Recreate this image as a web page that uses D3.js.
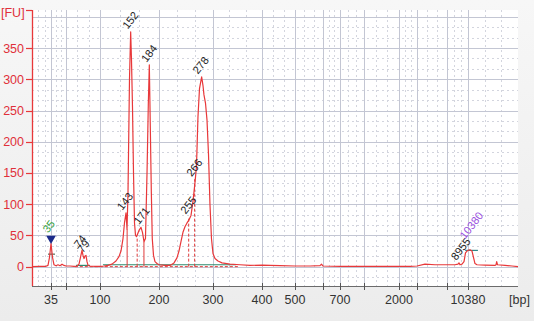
<!DOCTYPE html>
<html><head><meta charset="utf-8">
<script src="https://cdn.jsdelivr.net/npm/d3@7"></script>
<style>html,body{margin:0;padding:0;background:#f1f1f1;}svg{display:block;}</style>
</head><body><svg id="c" width="534" height="321"></svg>
<script>
// ---- data ----
const ladderBp = [35, 50, 100, 200, 300, 400, 500, 600, 700, 1000, 2000, 3000, 7000, 10380];
const ladderPos = [0.0391, 0.0700, 0.1399, 0.2613, 0.3724, 0.4733, 0.5412, 0.5988, 0.6337, 0.6831, 0.7551, 0.7922, 0.8539, 0.8971];
const xTickLabels = [35, 100, 200, 300, 400, 500, 700, 2000, 10380];
const yTicks = [0, 50, 100, 150, 200, 250, 300, 350];
const traceBp = [16,24,30,32,33.5,35,36.5,38,40,42,44,46,48,50,55.9,61.8,66.2,69.1,71.3,73.5,75,76.5,77.9,79.4,80.9,82.4,85.3,92.6,100,106.8,113.6,120.3,127.1,132.2,135.6,139,141.5,144.1,145.8,147.5,150,152,153.4,155.1,156.8,158.5,160.2,161.9,163.6,166.1,169.5,172,174.6,177.1,179.7,181.9,183.6,185.3,187,188.6,190.7,193.2,196.6,200,211,220.4,227.8,233.3,237,240.7,244.4,248.1,251.9,255.6,259.3,263,266.7,269.4,272.2,275,279,281.5,283.3,286.1,288.9,291.7,294.4,297.2,300,304.1,310.2,318.4,334.7,355.1,375.5,400,424.2,454.5,500,553.6,589.3,594.6,600,700,1000,2000,2611,3000,4067,5400,7000,8288,8771,8932,9093,9415,9737,9978,10219,10380,10702,11024,11265,11507,11829,13117,14727,14888,15001,15129,16337,17464,18430];
const traceFu = [0,0.5,0.5,2,15,37,15,3,1.5,3,1.5,4,2,1,1,0.5,1,4,15,26,18,13,17,18,8,2,1,0.5,0.5,1,2,4,9,16,25,45,70,86,60,120,300,376,330,255,150,70,50,48,52,58,63,55,40,45,150,260,323,222,120,45,18,8,5,3,2,2,6,14,25,40,55,64,70,75,82,105,135,160,240,285,304,290,275,262,235,180,100,45,21,13,9,6,4,3,2,2.5,2,1.5,1,1,1.5,4,1,0.5,0.5,0.5,0.5,1,4,3,3,3,4,6,3,4,8,22,25,26,27,25,15,5,3,2.5,2,3,8,3,2,1,0];
const peakBp = [35, 74, 79, 143, 152, 171, 184, 255, 266, 278, 8955, 10380];
const peakFu = [37, 26, 18, 86, 376, 63, 323, 80, 140, 304, 6, 27];
const peakLabels = ["35", "74", "79", "143", "152", "171", "184", "255", "266", "278", "8955", "10380"];
const peakColors = ["#2f9e3a", "#222", "#222", "#222", "#222", "#222", "#222", "#222", "#222", "#222", "#222", "#9a4fe0"];
const boundaryBp = [146, 163, 174.5, 255, 266];
const boundaryFu = [60, 47, 40, 80, 140];
const boundaryDashed = [false, true, false, true, true];
const smearBp = [[64.7, 85.3], [105, 347]];
const smearFu = [2, 3];

// ---- layout ----
const svg = d3.select("#c");
const L = 32, R = 518, T = 10, B = 286;
const W = R - L;
const x = d3.scaleLinear().domain(ladderBp).range(ladderPos.map(p => L + p * W));
const y = d3.scaleLinear().domain([-31, 411]).range([B, T]);
const font = "Liberation Sans, Arial, sans-serif";

const bg = svg.append("defs").append("linearGradient").attr("id","bg").attr("x1",0).attr("y1",0).attr("x2",0).attr("y2",1);
bg.append("stop").attr("offset","0").attr("stop-color","#f7f7f7");
bg.append("stop").attr("offset","1").attr("stop-color","#ececec");
svg.append("rect").attr("width",534).attr("height",321).attr("fill","url(#bg)");
svg.append("rect").attr("x",L).attr("y",T).attr("width",W).attr("height",B-T).attr("fill","#ffffff");

const grid = svg.append("g");
const minorColor = "#d3d5de", majorColor = "#c3c6d3";
d3.range(-1, 25).map(k => k * 50 / 3).filter(v => v > -31 && v < 411 && Math.abs(v % 50) > 1e-6).forEach(v => {
  const yv = Math.round(y(v)) + 0.5;
  grid.append("line").attr("x1",L).attr("x2",R).attr("y1",yv).attr("y2",yv)
    .attr("stroke",minorColor).attr("stroke-width",1).attr("stroke-dasharray","2,3");
});
const majors = [L, ...ladderBp.map(x), R];
for (let i = 0; i < majors.length - 1; i++) {
  [1/3, 2/3].forEach(f => {
    const xv = Math.round(majors[i] + (majors[i+1]-majors[i]) * f) + 0.5;
    grid.append("line").attr("x1",xv).attr("x2",xv).attr("y1",T).attr("y2",B)
      .attr("stroke",minorColor).attr("stroke-width",1).attr("stroke-dasharray","2,3");
  });
}
d3.range(0, 401, 50).forEach(v => {
  const yv = Math.round(y(v)) + 0.5;
  grid.append("line").attr("x1",L).attr("x2",R).attr("y1",yv).attr("y2",yv)
    .attr("stroke",majorColor).attr("stroke-width",1);
});
ladderBp.forEach(b => {
  const xv = Math.round(x(b)) + 0.5;
  grid.append("line").attr("x1",xv).attr("x2",xv).attr("y1",T).attr("y2",B)
    .attr("stroke",majorColor).attr("stroke-width",1);
});

// baseline annotations
const ann = svg.append("g");
ann.append("line").attr("x1",x(63)).attr("x2",x(351)).attr("y1",y(0)).attr("y2",y(0))
  .attr("stroke","#e03a3a").attr("stroke-width",1).attr("stroke-dasharray","3,2");
smearBp.forEach((s, i) => {
  ann.append("line").attr("x1",x(s[0])).attr("x2",x(s[1])).attr("y1",y(smearFu[i])).attr("y2",y(smearFu[i]))
    .attr("stroke","#2e8a6e").attr("stroke-width",1.2);
});
boundaryBp.forEach((b, i) => {
  ann.append("line").attr("x1",x(b)).attr("x2",x(b)).attr("y1",y(0)).attr("y2",y(boundaryFu[i]))
    .attr("stroke","#e03a3a").attr("stroke-width",1).attr("stroke-dasharray", boundaryDashed[i] ? "3,2" : null);
});
ann.append("line").attr("x1",x(32)).attr("x2",x(39)).attr("y1",y(20)).attr("y2",y(20)).attr("stroke","#5a6b5a").attr("stroke-width",1.2);
ann.append("line").attr("x1",x(9930)).attr("x2",x(11980)).attr("y1",y(26)).attr("y2",y(26)).attr("stroke","#2e8a8a").attr("stroke-width",1.2);

// trace
const line = d3.line().x((d, i) => x(traceBp[i])).y((d, i) => y(traceFu[i]));
svg.append("path").datum(traceBp).attr("d", line).attr("fill","none").attr("stroke","#e8383a").attr("stroke-width",1.2).attr("stroke-linejoin","round");

// lower marker triangle
const mx = x(peakBp[0]), my = y(peakFu[0]);
svg.append("path").attr("d", d3.symbol().type(d3.symbolTriangle).size(40)()).attr("transform",`translate(${mx},${my-5}) rotate(180)`).attr("fill","#1b2a8a");

// peak labels
const markerIdx = [0, peakBp.length - 1];
peakBp.forEach((b, i) => {
  const px = x(b) - 3, py = y(peakFu[i]) - (markerIdx.includes(i) ? 10 : 2);
  svg.append("text").attr("transform",`translate(${px},${py}) rotate(-52)`)
    .attr("font-family",font).attr("font-size",11).attr("fill",peakColors[i]).text(peakLabels[i]);
});

// axes
const axisColor = "#e8383a";
svg.append("line").attr("x1",L+0.5).attr("x2",L+0.5).attr("y1",T).attr("y2",B).attr("stroke",axisColor).attr("stroke-width",1.3);
svg.append("line").attr("x1",L).attr("x2",R).attr("y1",B+0.5).attr("y2",B+0.5).attr("stroke","#6b6b6b").attr("stroke-width",1);
yTicks.forEach(v => {
  svg.append("line").attr("x1",L-6).attr("x2",L).attr("y1",Math.round(y(v))+0.5).attr("y2",Math.round(y(v))+0.5).attr("stroke",axisColor).attr("stroke-width",1.2);
  svg.append("text").attr("x",L-8).attr("y",y(v)+4.5).attr("text-anchor","end")
    .attr("font-family",font).attr("font-size",12.5).attr("fill","#e0303a").text(v);
});
svg.append("line").attr("x1",L-6).attr("x2",L).attr("y1",T+0.5).attr("y2",T+0.5).attr("stroke",axisColor).attr("stroke-width",1.2);
ladderBp.forEach(b => {
  svg.append("line").attr("x1",Math.round(x(b))+0.5).attr("x2",Math.round(x(b))+0.5).attr("y1",B-3).attr("y2",B+4).attr("stroke","#555").attr("stroke-width",1);
});
xTickLabels.forEach(b => {
  svg.append("text").attr("x",x(b)).attr("y",B+18).attr("text-anchor","middle")
    .attr("font-family",font).attr("font-size",12.5).attr("fill","#333").text(b);
});
svg.append("text").attr("x",1).attr("y",17).attr("font-family",font).attr("font-size",12.5).attr("fill","#e0303a").text("[FU]");
svg.append("text").attr("x",509).attr("y",B+18).attr("font-family",font).attr("font-size",12.5).attr("fill","#333").text("[bp]");
</script></body></html>
